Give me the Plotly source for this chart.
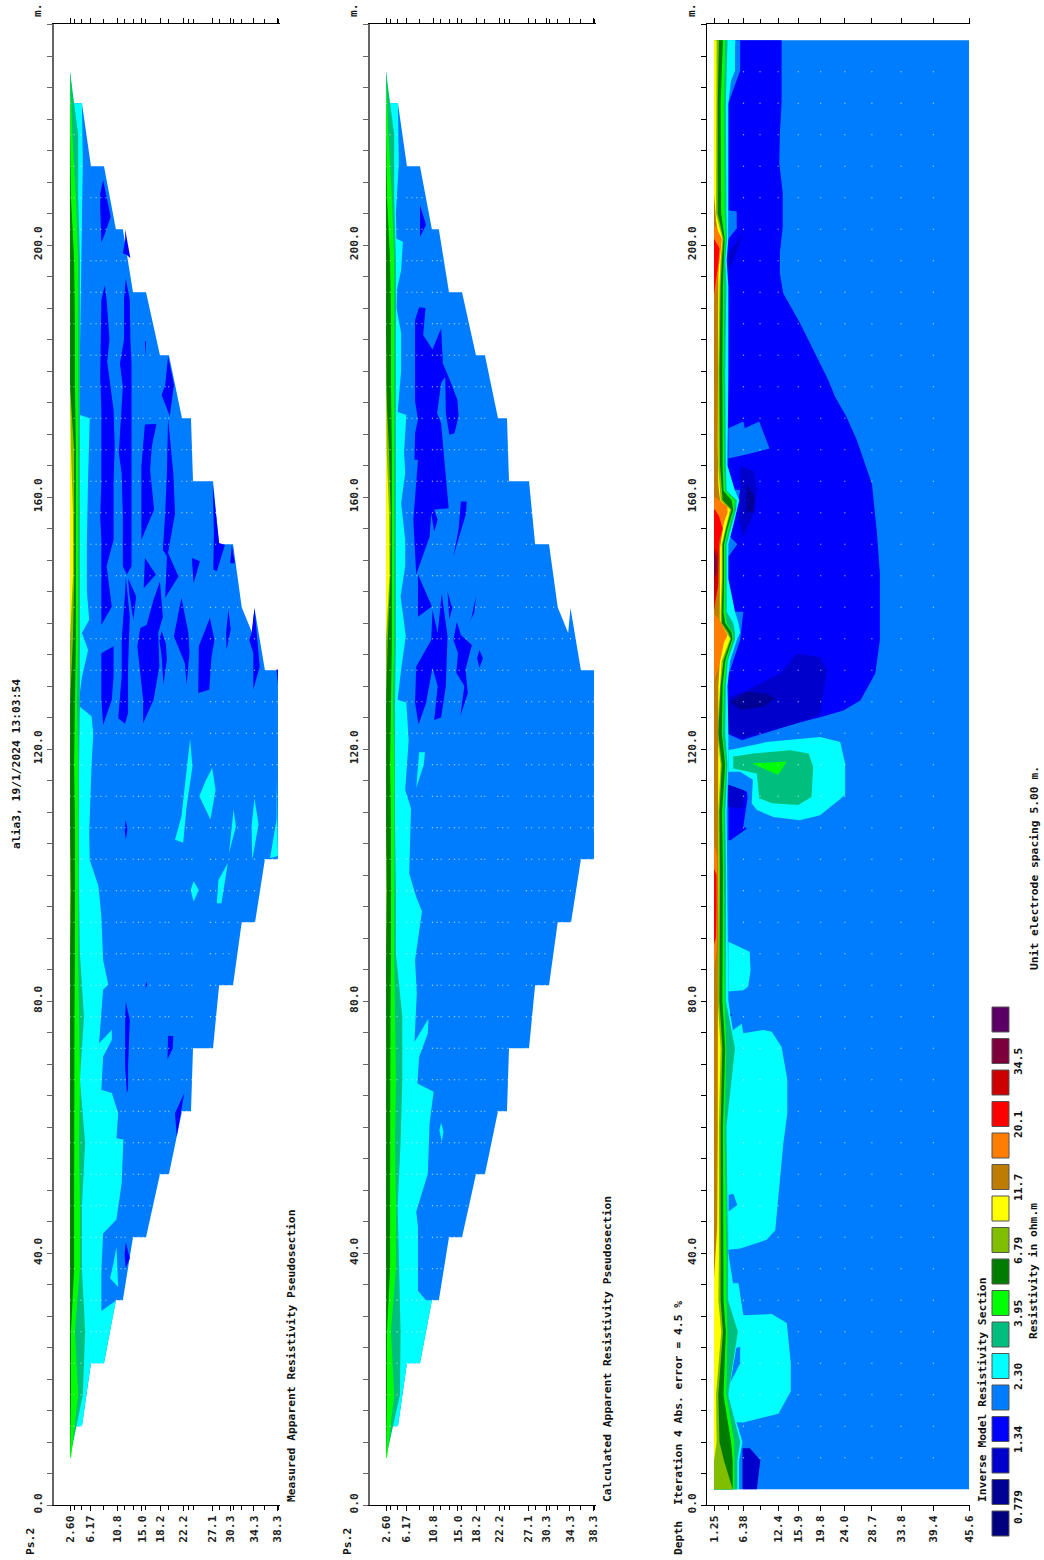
import plotly.graph_objects as go

W, H = 1044, 1560
FONT = "DejaVu Sans Mono"

# ---------- colour scale of the legend, lowest to highest ----------
legend_colors = ["#000080", "#000096", "#0000CD", "#0000FF", "#007DFF", "#00FFFF", "#00BE7D",
                 "#00FF00", "#007D00", "#82BE00", "#FFFF00", "#BE7D00", "#FF7D00", "#FF0000",
                 "#CD0000", "#7D003C", "#5A0064"]
legend_labels = ["0.779", "1.34", "2.30", "3.95", "6.79", "11.7", "20.1", "34.5"]
DEEP2, DEEP, BLUE, SKY, CYAN, TEAL, GREEN, DGREEN, OLIVE, YELLOW, BROWN, ORANGE, RED, DRED, MAROON = legend_colors[1:16]

# ---------- axes ----------
pseudo_ticks = [2.6, 6.17, 10.8, 15.0, 18.2, 22.2, 27.1, 30.3, 34.3, 38.3]
pseudo_labels = ["2.60", "6.17", "10.8", "15.0", "18.2", "22.2", "27.1", "30.3", "34.3", "38.3"]
pseudo_minor = [3.3, 4.6, 8.3, 11.9, 13.5, 15.6, 19.6, 23.0, 23.9, 28.3, 30.8, 32.2, 36.2, 38.5]
model_ticks = [1.25, 6.38, 12.4, 15.9, 19.8, 24.0, 28.7, 33.8, 39.4, 45.6]
model_labels = ["1.25", "6.38", "12.4", "15.9", "19.8", "24.0", "28.7", "33.8", "39.4", "45.6"]
model_minor = [3.75, 9.25]
pos_ticks = list(range(0, 236, 5))
pos_labels = [f"{v:.1f}" if v % 40 == 0 else "" for v in pos_ticks]

# ---------- pseudosection outline (depth, position) ----------
outline = [(2.6, 7.5), (3.1, 12.5), (4.65, 12.5), (6.2, 22.5), (8.45, 22.5), (10.5, 32.5), (11.7, 32.5),
           (13.45, 42.5), (15.7, 42.5), (18.1, 52.5), (19.65, 52.5), (21.9, 62.5), (23.45, 62.5), (23.8, 72.5),
           (27.25, 72.5), (28.3, 82.5), (30.7, 82.5), (32.2, 92.5), (34.5, 92.5), (36.2, 102.5), (38.45, 102.5),
           (38.45, 132.5), (36.2, 132.5), (34.4, 142.4), (34.0, 138.4), (32.2, 142.5), (30.7, 152.5), (28.3, 152.5),
           (27.25, 162.5), (23.8, 162.5), (23.45, 172.5), (21.9, 172.5), (19.65, 182.5), (18.1, 182.5), (15.7, 192.5),
           (13.45, 192.5), (11.7, 202.5), (10.5, 202.5), (8.45, 212.5), (6.2, 212.5), (4.65, 222.5), (3.1, 222.5),
           (2.6, 227.5)]

# ---------- near-surface bands of the pseudosections ----------
surface_pos = [7.5, 17.5, 27.5, 37.5, 47.5, 57.5, 67.5, 77.5, 87.5, 97.5, 107.5, 117.5, 127.5, 137.5, 147.5, 157.5,
               167.5, 177.5, 187.5, 197.5, 207.5, 217.5, 227.5]
m_teal = [2.6, 4.8, 5.2, 4.65, 4.65, 5.2, 4.3, 5.0, 4.3, 4.15, 4.15, 4.15, 4.3, 4.3, 4.3, 4.3, 4.3, 4.3, 4.3, 4.3, 4.0, 4.0, 2.6]
c_teal = [2.6, 5.0, 5.1, 4.8, 4.6, 5.1, 5.4, 5.4, 4.3, 4.3, 4.15, 4.15, 4.15, 4.3, 4.3, 4.3, 4.3, 4.3, 4.3, 4.3, 4.0, 4.0, 2.6]
s_green = [2.76, 4.0, 3.45, 4.3, 4.3, 4.15, 4.3, 4.15, 4.0, 4.0, 4.0, 4.0, 3.8, 4.0, 4.0, 4.0, 4.0, 4.0, 4.0, 4.0, 3.6, 3.0, 2.6]
s_dgreen = [2.6, 2.76, 2.76, 3.3, 3.3, 3.3, 3.3, 3.36, 3.45, 3.45, 3.45, 3.3, 3.45, 3.6, 3.6, 3.6, 3.6, 3.45, 3.45, 3.3, 2.76, 2.6, 2.6]
m_olive = [2.6, 2.6, 2.6, 2.6, 2.6, 2.6, 2.6, 2.6, 2.6, 2.76, 2.6, 2.6, 2.6, 3.1, 3.3, 3.3, 3.3, 2.6, 2.6, 2.6, 2.6, 2.6, 2.6]
m_yellow = [2.6, 2.6, 2.6, 2.6, 2.6, 2.6, 2.6, 2.6, 2.6, 2.6, 2.6, 2.6, 2.6, 2.6, 3.1, 3.1, 2.76, 2.6, 2.6, 2.6, 2.6, 2.6, 2.6]
c_olive = [2.6, 2.6, 2.6, 2.6, 2.6, 2.6, 2.6, 2.6, 2.6, 2.76, 2.6, 2.6, 2.6, 2.9, 3.3, 3.4, 3.1, 2.6, 2.6, 2.6, 2.6, 2.6, 2.6]
c_yellow = [2.6, 2.6, 2.6, 2.6, 2.6, 2.6, 2.6, 2.6, 2.6, 2.6, 2.6, 2.6, 2.6, 2.6, 3.2, 3.1, 2.7, 2.6, 2.6, 2.6, 2.6, 2.6, 2.6]

# ---------- measured pseudosection ----------
m_cyan = [(2.6, 222.5), (4.65, 222.5), (4.8, 213), (4.3, 182.5), (4.3, 173), (6, 172.5), (5.7, 162.7), (5.5, 152.7),
          (5.5, 145), (5.9, 140.5), (4.65, 138.4), (5.7, 135.7), (4.65, 131.4), (4.0, 126.8), (4.3, 126.7),
          (6.3, 125.2), (6.6, 122.5), (6.3, 117.2), (5.9, 106.6), (6, 102.4), (7.5, 98.2), (8, 93.4), (8.3, 86.5),
          (9.2, 82.6), (8.3, 81.8), (7.6, 73.3), (9.8, 75.4), (9.8, 73.8), (8.3, 71.2), (8, 65.9), (9.8, 65.4),
          (10.9, 62.2), (10.6, 58.2), (11.8, 58), (11.5, 51.1), (10.6, 45.3), (8.3, 43.1), (8, 37.3), (8, 30.8),
          (10.6, 32.5), (11.7, 32.5), (10.5, 32.5), (8.45, 22.5), (6.2, 22.5), (4.65, 12.5), (3.1, 12.5), (2.6, 7.5)]
m_cyan_islands = [
    [(10.6, 41), (10.9, 34.6), (9.5, 36), (10.1, 38.4)],
    [(23.3, 121.6), (23.7, 117.2), (22.7, 110.9), (22.1, 105.1), (20.7, 105.6), (21.8, 109.3)],
    [(27.1, 117), (27.7, 113.5), (26.8, 108.8), (24.9, 112.5), (25.9, 114.8)],
    [(30.8, 110.4), (31.2, 107.7), (30, 103.5), (30.5, 108.2)],
    [(34.4, 112.2), (35.1, 108), (34, 102.4), (33.9, 107.7)],
    [(38.2, 115.6), (38.45, 103), (37.1, 102.7), (38.2, 108.8)],
    [(29.8, 101.9), (28.7, 95.5), (27.9, 95.5), (28.2, 99.2)],
    [(23.9, 99), (24.8, 97.6), (23.9, 95.8), (23.4, 97.6)],
]
m_blue_blobs = [
    [(8.3, 210.3), (9.6, 204.5), (8.6, 201.8), (8, 200.4), (7.8, 206), (7.8, 208.2)],
    [(12.1, 202.5), (13, 197.9), (12.4, 198.4), (11.7, 198.7), (12.1, 200.8)],
    [(8.6, 193.6), (8.9, 191.3), (9.4, 185), (9.0, 181.5), (10.1, 173.8), (10.3, 168), (10.1, 162.2), (10.1, 156.9),
     (10.1, 153.2), (8.9, 149), (9.8, 142.6), (8, 139.7), (8, 142.6), (8, 149), (8, 153.2), (7.8, 156.9), (8, 162.2),
     (8, 168), (8, 173.8), (7.8, 179.1), (7.9, 185), (8, 191.3)],
    [(8.0, 135.2), (10.1, 136.3), (10.1, 131.5), (9.8, 127.8), (8.3, 123.8), (8, 127.8)],
    [(12.2, 194.7), (12.9, 191.3), (13, 185), (13.2, 181.2), (13.2, 177.5), (13.2, 170), (13.2, 163.8), (13.2, 157),
     (13.2, 149), (12.4, 147.7), (11.7, 149), (11.7, 157), (11.5, 163.8), (11, 167), (11.2, 170), (11.7, 177.5),
     (11.2, 181.2), (11.9, 185), (11.9, 191.3)],
    [(12.2, 147.4), (12.9, 141), (12.6, 133.1), (12.6, 125.7), (12.1, 124), (10.9, 124.9), (11.5, 131.5), (11.5, 137.3), (12.1, 145)],
    [(12.6, 147.1), (14, 144.2), (13.5, 140.5), (12.8, 144.8)],
    [(15.5, 171.5), (17.5, 171.6), (16.7, 168), (16.4, 164.3), (17.1, 158), (14.9, 153.2), (14.9, 164.9), (15.2, 168)],
    [(15.5, 184.7), (15.7, 184.7), (15.6, 182.3)],
    [(19.5, 182.3), (20.5, 177.8), (19.8, 172.8), (18.4, 176.2), (19, 177.8)],
    [(19.5, 172.5), (20.4, 163.8), (20.7, 157.4), (20.1, 154.3), (19.5, 151.1), (21.3, 147.4), (19, 144), (19.3, 150.6),
     (18.6, 151.6), (19, 157.4), (19.3, 163.8)],
    [(15.5, 150.3), (17.4, 147.7), (15.3, 145.5)],
    [(23.6, 150.3), (25, 149.8), (23.9, 146.3)],
    [(27.2, 162), (28.3, 152.7), (29.3, 152.4), (27.9, 148.2), (27.3, 148.5), (27.4, 154.3)],
    [(30.5, 152.4), (31, 149.5), (30.2, 149.5)],
    [(18.1, 146.6), (18.6, 141), (17.8, 138.4), (18, 133.1), (17, 127.8), (15.2, 124.1), (15.2, 127.8), (14.9, 130.5),
     (14.2, 136.3), (14.7, 139.2), (15.8, 139.7), (17, 143.7)],
    [(18.4, 138.7), (19.1, 136.8), (19.3, 134.2), (18.7, 130.2), (18.4, 134.7), (18, 137.3)],
    [(21.8, 144), (23, 138.4), (23.2, 135.2), (22.7, 130.2), (22.4, 133.6), (20.5, 137.9)],
    [(26.7, 140.8), (27.5, 137.3), (27, 134.7), (26.6, 129.4), (24.7, 128.9), (24.8, 136.3)],
    [(29.9, 142.1), (30.3, 139), (29.6, 135.8), (29.5, 138.4)],
    [(34.4, 142.4), (35.3, 133.1), (34.2, 129.4), (34.2, 135.2), (33.5, 137.3), (33.9, 138.4)],
    [(38.2, 132.6), (38.45, 132.6), (38.45, 130.2)],
    [(12.2, 108.8), (12.5, 107.2), (12.2, 105.6), (12, 107.2)],
    [(15.7, 83.1), (15.9, 82.6), (15.6, 82)],
    [(12.2, 79.9), (12.9, 77), (12.6, 69.6), (12.6, 65.9), (12.4, 65.4), (12.1, 69.6), (12.1, 77)],
    [(19.5, 74.5), (20.4, 74.4), (20.3, 72.5), (19.4, 70.7)],
    [(22.3, 65.4), (21.7, 62.2), (21, 58.5), (20.7, 62.2)],
    [(12.2, 41.7), (12.9, 39.2), (12.2, 37.6), (12.0, 39.7)],
]

# ---------- calculated pseudosection ----------
c_cyan = [(2.6, 222.5), (4.65, 222.5), (4.8, 213), (4.3, 205), (4.4, 201), (5.5, 200.5), (5.2, 196), (4.5, 193), (4.4, 190),
          (5.2, 186), (5.2, 180), (4.6, 174), (4.6, 173.5), (6.1, 173), (5.7, 167), (5.9, 163.8), (5.2, 159), (5.9, 153.2),
          (5.9, 149), (5.1, 144.2), (6, 137.9), (5.2, 132.6), (4.6, 127.8), (6.1, 127.4), (6.5, 121.4), (5.9, 113.5),
          (6.9, 110.6), (6.6, 100.2), (7.8, 96.5), (8.8, 94.2), (8.1, 89.7), (7.6, 86.5), (7.9, 81.2), (7.8, 79.1),
          (7.5, 73.5), (9.9, 77.2), (9.8, 74.9), (8.3, 71.1), (8, 66.9), (10.8, 65.6), (10.1, 60.6), (9.8, 52.6),
          (7.8, 46.5), (8.1, 44.2), (8.1, 38.9), (8.1, 34), (9.5, 32.5), (10.5, 32.5), (8.45, 22.5), (6.2, 22.5),
          (4.65, 12.5), (3.1, 12.5), (2.6, 7.5)]
c_cyan_islands = [
    [(8.3, 119.5), (9.3, 119.5), (9.1, 117.5), (7.8, 113.8)],
    [(11.8, 59.5), (12.1, 60.7), (12.5, 59.2), (12.2, 57.7)],
]
c_blue_blobs = [
    [(8.45, 206.3), (9.5, 203.2), (8.45, 201.3)],
    [(8.3, 190.1), (9.4, 190), (9, 185.7), (10.6, 183.4), (12.1, 186.8), (12.4, 181.2), (13.8, 178.1), (14.9, 175.4),
     (15.1, 172.8), (14.4, 170.1), (13.5, 169.9), (12.9, 173.3), (12.8, 179.1), (12.1, 178.1), (11.4, 173.3),
     (12.1, 171.7), (12.6, 166.4), (13.4, 158.2), (10.9, 158), (11.5, 156.4), (10.9, 154.5), (10.4, 157.4),
     (10.1, 153.7), (7.8, 147.7), (7.3, 156.4), (7.8, 161.7), (8.1, 165.9), (7.5, 165.9), (7.6, 170.1), (8.1, 172.3),
     (7.6, 175.2), (7.6, 188.1)],
    [(15.5, 159.3), (16.5, 159.3), (16.4, 157.4), (14.2, 150.6), (15.1, 154.8), (15.4, 157.4)],
    [(8.1, 147.7), (10.5, 142.6), (8.1, 141)],
    [(11.8, 150), (10.9, 144), (11.5, 147.4)],
    [(7.8, 133.1), (10.4, 137.3), (10.6, 142.1), (11.5, 138.4), (12.2, 144.7), (13.2, 137.9), (12.9, 130), (12.1, 125),
     (10.9, 124.6), (11.5, 130), (10.6, 132.9), (9.5, 127.3), (8.2, 123.9), (7.6, 127.3)],
    [(13.2, 145), (14, 142.4), (13.5, 140.5)],
    [(18.1, 144.2), (17.8, 141.6), (16.1, 138.7), (17.3, 140.8)],
    [(14.8, 140.2), (15.5, 138.1), (17.4, 136.5), (16.3, 132.6), (16.7, 128.9), (15.4, 125.2), (16.1, 130), (14.7, 132.1),
     (15, 135.2), (14.2, 137.3)],
    [(18.7, 135.7), (19.3, 134.4), (18.7, 132.9), (18.3, 134.4)],
]

# ---------- white data-point marks ----------
pseudo_dot_depths = [2.6, 3.3, 4.5, 6.2, 7.1, 7.9, 8.8, 10.6, 11.4, 12.1, 13.5, 14.4, 15.2, 16.4, 18.1, 19, 19.6, 21.9,
                     22.7, 23.6, 26.8, 27.7, 29, 30, 31.5, 33, 34.4, 36.2, 37.5, 38.3]
model_dot_depths = [6.38, 9.25, 12.4, 15.9, 19.8, 24.0, 28.7, 33.8, 39.4]
dot_positions = [7.5 + 5 * i for i in range(45)]

# ---------- inverse model section ----------
model_depth_range = [1.25, 45.6]
model_pos_range = [2.5, 232.5]
band_pos = [2.5, 7, 10, 17.5, 27.5, 32.5, 40, 60, 72.5, 80, 100, 110, 117.5, 122.5, 130, 134, 137.5, 138.5, 140, 141.8,
            147, 152.5, 155, 158, 159.5, 161, 165, 180, 193.4, 197.6, 201, 205, 222.5, 232.5]
band_yellow = [1.25, 1.25, 1.7, 1.6, 2.5, 2.0, 2.1, 2.1, 2.4, 1.9, 2.0, 2.0, 2.4, 1.8, 2.3, 2.6, 4.05, 3.45, 2.4, 2.4,
               2.6, 2.6, 3.2, 4.05, 2.4, 2.3, 2.0, 2.0, 2.2, 2.4, 2.7, 1.6, 1.7, 1.7]
band_olive = [4.5, 3.0, 2.2, 2.0, 2.8, 2.4, 2.4, 2.4, 2.7, 2.2, 2.3, 2.2, 2.6, 2.0, 2.4, 2.9, 4.2, 3.75, 2.6, 2.6,
              2.75, 2.75, 3.35, 4.3, 2.75, 2.6, 2.3, 2.2, 2.4, 2.6, 2.9, 1.9, 1.9, 2.1]
band_dgreen = [4.5, 4.5, 4.2, 2.9, 3.3, 2.9, 2.9, 2.8, 3.2, 2.7, 2.8, 2.65, 3.2, 2.6, 2.75, 3.2, 4.45, 4.3, 3.2, 2.9,
               3.0, 3.0, 3.6, 4.6, 4.3, 2.9, 2.75, 2.7, 2.8, 2.9, 3.1, 2.5, 2.4, 2.8]
band_green = [4.8, 4.8, 4.8, 3.4, 3.6, 3.4, 3.4, 3.1, 3.4, 3.1, 3.0, 2.9, 3.35, 2.75, 3.05, 3.45, 4.6, 4.5, 3.45, 3.2,
              3.2, 3.2, 3.9, 4.75, 4.9, 3.2, 3.0, 2.9, 3.05, 3.05, 3.3, 3.1, 3.0, 3.2]
band_teal = [5.3, 5.3, 5.8, 3.7, 5.4, 3.7, 3.7, 3.4, 4.9, 3.3, 3.35, 3.2, 3.6, 3.2, 3.3, 3.65, 4.9, 4.9, 4.6, 3.45,
             3.45, 3.45, 4.15, 5.1, 5.2, 3.45, 3.3, 3.2, 3.4, 3.2, 3.5, 3.4, 3.3, 3.6]
band_cyan = [5.6, 5.6, 6.2, 3.75, 5.6, 5.0, 3.75, 3.75, 5.0, 3.75, 3.6, 3.45, 3.75, 3.75, 3.6, 4.05, 5.3, 5.8, 5.5, 4.9,
             3.75, 3.75, 4.45, 5.3, 5.65, 4.9, 3.6, 3.75, 3.75, 3.45, 3.75, 3.75, 3.75, 5.0]

model_big_blue = [(1.25, 232.5), (13, 232.5), (13, 222.5), (12.7, 217.7), (12.6, 213), (13.2, 208.2), (13.2, 202.9),
                  (12.7, 198.7), (12.7, 195.5), (13.3, 192.3), (16.2, 187.6), (19.1, 182.3), (21.1, 178.6), (22.3, 175.9),
                  (24.3, 172.7), (26.1, 169), (28.7, 162.1), (29.55, 154.7), (30.1, 147.8), (30.1, 137.3), (29.3, 132),
                  (26.7, 127.7), (23.75, 126.1), (20, 125.1), (15.3, 124), (6.1, 121.4), (3.7, 122.4), (1.25, 122.4)]
model_sky_pockets = [
    [(1.25, 232.5), (5.8, 232.5), (5.8, 227.7), (3.75, 222.5), (1.25, 222.5)],
    [(3.75, 205.5), (5.2, 205.3), (5.2, 202.6), (3.75, 201)],
    [(3.75, 170.9), (6.35, 172), (6.6, 170.9), (9.1, 172), (10.9, 167.7), (7.6, 166.9), (3.75, 166.1)],
    [(3.2, 161.2), (5.8, 161.1), (4.9, 156.6), (4.05, 153.7), (5.3, 152.5), (3.9, 150.7), (3.2, 150.7)],
    [(3.2, 141.8), (6.35, 141.8), (5.8, 137.3), (4.05, 132.5), (4.9, 132.5), (3.2, 132.2)],
]
model_cyan_pocket = [(1.25, 232.5), (4.9, 232.5), (4.9, 227.7), (3.75, 225), (1.25, 225)]
model_deep = [
    [(3.45, 126.2), (4, 128.3), (6.95, 129.3), (12.75, 132), (15.6, 135.1), (19.7, 134.6), (20.85, 132.5), (20.3, 128.8),
     (19.7, 125.4), (15.35, 124), (6.35, 121.7), (3.75, 122.4)],
    [(5.8, 164.8), (8.1, 164.2), (8.7, 161.1), (8.4, 157.9), (6.35, 153.7), (5.5, 156.3), (5.8, 161)],
    [(3.75, 196), (3.75, 198.7), (6.35, 201.9), (4.6, 197.6)],
    [(6.2, 9), (7.5, 9), (9.3, 7.1), (8.7, 2.5), (6.2, 2.5)],
    [(3.75, 114.3), (6.5, 113.4), (6.3, 110.5), (3.75, 110.8)],
]
model_deeper = [
    [(4, 127.5), (6.95, 129.1), (10.4, 128.8), (11.9, 128), (9.85, 126.7), (5.8, 126.2)],
    [(7, 162), (8.3, 160), (8, 157.5), (6.8, 157.8)],
]
model_blue_small = [(3.75, 114.3), (6.95, 113.2), (7.1, 112.4), (6.35, 107.7), (7, 107.4), (4.1, 105.5), (3.75, 105.5)]
model_dark_dot = [(3.75, 78), (4.4, 77.8), (4, 77.4)]
model_cyan_blobs = [
    [(3.75, 119.8), (10.4, 121.1), (19.7, 121.9), (23.2, 121.1), (24.05, 117.7), (24.05, 112.7), (19.7, 109.5), (16.2, 108.7),
     (11.6, 109.2), (8.7, 110.3), (7.8, 111.4), (8, 115.1), (5.8, 116.4), (3.75, 116.4)],
    [(3.75, 89.4), (7.45, 87.8), (7.6, 84.9), (7.2, 82.3), (6.35, 81.7), (3.75, 81.5)],
    [(3.45, 74.6), (6.05, 76.4), (6.35, 74.9), (9.8, 75.4), (11.3, 75.1), (13, 72.7), (14, 67.5), (14, 62.2), (13.3, 57.4),
     (12.7, 51.6), (11.9, 43.6), (10.4, 42.1), (5.8, 40.7), (3.75, 40.5)],
    [(3.75, 13.2), (6.35, 13.1), (12.45, 14.5), (14.6, 18), (14.6, 22.5), (13.9, 28.9), (11.3, 30.3), (6.35, 30.1),
     (5.5, 35.2), (3.75, 35.2)],
]
model_sky_in_cyan = [
    [(3.75, 49.2), (4.6, 49.4), (5.3, 47.6), (3.75, 46.6)],
    [(3.75, 18.8), (5.8, 22.5), (5.8, 25.1), (3.75, 24.6)],
]
model_teal_blob = [(4.6, 118.8), (8.1, 119.3), (14.5, 119.8), (17.7, 119.3), (18.5, 117.2), (18.2, 112.4), (15.9, 111.1),
                   (11.3, 111.4), (9.1, 112.2), (8.7, 116.1), (4.6, 116.9)]
model_green_blob = [(7.8, 117.7), (13.9, 118), (12.4, 115.9), (9.8, 116.9)]
surface_brown = [(1.25, 36), (1.8, 44), (1.9, 60), (1.9, 100), (1.9, 125), (2.0, 130), (2.2, 133), (2.3, 142), (2.3, 152),
                 (2.8, 155), (3.2, 158), (2.3, 159.5), (2.0, 162), (1.9, 168), (1.9, 190), (2.0, 195), (2.2, 200), (1.6, 204), (1.25, 208)]
surface_orange = [
    [(1.25, 131), (2.1, 133), (3.0, 137), (3.6, 138), (2.2, 140.5), (1.25, 141.5)],
    [(1.25, 153), (2.6, 155), (3.6, 157.5), (3.6, 158.5), (2.2, 159.5), (1.25, 160)],
    [(1.25, 191), (1.9, 195), (2.3, 198), (2.6, 201), (1.5, 203), (1.25, 203)],
    [(1.25, 85), (1.7, 88), (1.8, 95), (1.8, 103), (1.25, 105)],
]
surface_red = [
    [(1.25, 142), (2.0, 146), (2.1, 152), (2.2, 153), (2.75, 155), (2.1, 157), (1.4, 158), (1.25, 158)],
    [(1.25, 192), (1.6, 194), (2, 197), (2.2, 199.5), (1.25, 201)],
    [(1.25, 89), (1.6, 90), (1.7, 95), (1.7, 100), (1.25, 101)],
]
surface_dred = [(1.25, 143), (1.9, 146), (2.0, 151), (1.25, 152)]
surface_maroon = [(1.25, 147), (1.7, 148), (1.8, 150), (1.25, 151.5)]

fig = go.Figure()


def poly(points, color, n):
    fig.add_trace(go.Scatter(x=[p[0] for p in points] + [points[0][0]], y=[p[1] for p in points] + [points[0][1]],
                             mode="lines", line=dict(width=0, color=color), fill="toself", fillcolor=color,
                             hoverinfo="skip", showlegend=False, xaxis=f"x{n}", yaxis=f"y{n}"))


def band(surface, positions, depths, color, n):
    pts = [(surface, positions[0])] + list(zip(depths, positions)) + [(surface, positions[-1])]
    poly(pts, color, n)


def inside(x, y, pts):
    hit = False
    for i in range(len(pts)):
        x1, y1 = pts[i]
        x2, y2 = pts[(i + 1) % len(pts)]
        if (y1 > y) != (y2 > y) and x < x1 + (y - y1) * (x2 - x1) / (y2 - y1):
            hit = not hit
    return hit


def dots(depths, positions, region, n):
    xs, ys = [], []
    for p in positions:
        for d in depths:
            if inside(d, p, region):
                xs.append(d)
                ys.append(p)
    fig.add_trace(go.Scatter(x=xs, y=ys, mode="markers", marker=dict(symbol="square", size=1.2, color="rgba(255,255,255,0.7)", line=dict(width=0)),
                             hoverinfo="skip", showlegend=False, xaxis=f"x{n}", yaxis=f"y{n}"))


def pseudosection(n, blobs, cyan, islands, teal, olive, yellow):
    poly(outline, SKY, n)
    for b in blobs:
        poly(b, BLUE, n)
    poly(cyan, CYAN, n)
    for b in islands:
        poly(b, CYAN, n)
    band(2.6, surface_pos, teal, TEAL, n)
    band(2.6, surface_pos, s_green, GREEN, n)
    band(2.6, surface_pos, s_dgreen, DGREEN, n)
    band(2.6, surface_pos, olive, OLIVE, n)
    band(2.6, surface_pos, yellow, YELLOW, n)
    dots(pseudo_dot_depths, dot_positions, outline, n)


pseudosection(1, m_blue_blobs, m_cyan, m_cyan_islands, m_teal, m_olive, m_yellow)
pseudosection(2, c_blue_blobs, c_cyan, c_cyan_islands, c_teal, c_olive, c_yellow)

# model section
section_rect = [(model_depth_range[0], model_pos_range[0]), (model_depth_range[1], model_pos_range[0]),
                (model_depth_range[1], model_pos_range[1]), (model_depth_range[0], model_pos_range[1])]
poly(section_rect, SKY, 3)
poly(model_big_blue, BLUE, 3)
for b in model_sky_pockets:
    poly(b, SKY, 3)
poly(model_cyan_pocket, CYAN, 3)
for b in model_deep:
    poly(b, DEEP, 3)
for b in model_deeper:
    poly(b, DEEP2, 3)
poly(model_blue_small, BLUE, 3)
poly(model_deep[4], DEEP, 3)
poly(model_dark_dot, DEEP, 3)
for b in model_cyan_blobs:
    poly(b, CYAN, 3)
for b in model_sky_in_cyan:
    poly(b, SKY, 3)
poly(model_teal_blob, TEAL, 3)
poly(model_green_blob, GREEN, 3)
for depths, color in [(band_cyan, CYAN), (band_teal, TEAL), (band_green, GREEN), (band_dgreen, DGREEN),
                      (band_olive, OLIVE), (band_yellow, YELLOW)]:
    band(1.25, band_pos, depths, color, 3)
poly(surface_brown, BROWN, 3)
for b in surface_orange:
    poly(b, ORANGE, 3)
for b in surface_red:
    poly(b, RED, 3)
poly(surface_dred, DRED, 3)
poly(surface_maroon, MAROON, 3)
dots(model_dot_depths, dot_positions, section_rect, 3)

tick_font = dict(family=FONT, size=11.3, color="#222222", weight="bold")
TOP, BOTTOM = 24, 1505


def xaxis(left, right, rng, ticks, labels, minor):
    return dict(domain=[left / W, right / W], range=rng, tickmode="array", tickvals=ticks, ticktext=labels,
                tickangle=-90, ticks="outside", ticklen=5, tickcolor="#000000", tickwidth=1, tickfont=tick_font,
                showline=True, linecolor="#000000", linewidth=1, mirror="ticks", showgrid=False, zeroline=False,
                minor=dict(tickmode="array", tickvals=minor, ticks="outside", ticklen=4, tickcolor="#000000", tickwidth=1, showgrid=False),
                automargin=False, fixedrange=True)


def yaxis(anchor, color, width):
    return dict(domain=[1 - BOTTOM / H, 1 - TOP / H], range=[0, (BOTTOM - TOP) / 6.3], anchor=anchor, tickmode="array", tickvals=pos_ticks,
                ticktext=pos_labels, tickangle=-90, ticks="outside", ticklen=5, tickcolor=color, tickwidth=1,
                tickfont=tick_font, showline=True, linecolor=color, linewidth=width, showgrid=False, zeroline=False,
                automargin=False, fixedrange=True)


shapes = []
for i, c in enumerate(legend_colors):
    top = 1511 - i * 31.5
    shapes.append(dict(type="rect", xref="paper", yref="paper", x0=992 / W, x1=1009 / W, y0=1 - (top + 25) / H, y1=1 - top / H,
                       fillcolor=c, line=dict(color="#555555", width=1)))

notes = [("alia3, 19/1/2024 13:03:54", 16, 764), ("Measured Apparent Resistivity Pseudosection", 291, 1356),
         ("Calculated Apparent Resistivity Pseudosection", 607, 1349), ("Ps.2", 30, 1542), ("Ps.2", 347, 1542),
         ("m.", 38, 10), ("m.", 354, 10), ("m.", 692, 10), ("Depth", 678, 1538),
         ("Iteration 4 Abs. error = 4.5 %", 678, 1403), ("Inverse Model Resistivity Section", 982, 1390),
         ("Resistivity in ohm.m", 1033, 1271), ("Unit electrode spacing 5.00 m.", 1034, 868)]
label_rows = [1507, 1440, 1377, 1314, 1251, 1188, 1125, 1062]
notes += [(t, 1018, y) for t, y in zip(legend_labels, label_rows)]
annotations = [dict(text=t, xref="paper", yref="paper", x=x / W, y=1 - y / H, xanchor="center", yanchor="middle",
                    textangle=-90, showarrow=False, font=dict(family=FONT, size=11.3, color="#111111", weight="bold")) for t, x, y in notes]

fig.update_layout(
    width=W, height=H, margin=dict(l=0, r=0, t=0, b=0), paper_bgcolor="white", plot_bgcolor="white", showlegend=False,
    xaxis=xaxis(54, 280, [-0.17, 38.8], pseudo_ticks, pseudo_labels, pseudo_minor),
    xaxis2=xaxis(370, 596, [-0.17, 38.8], pseudo_ticks, pseudo_labels, pseudo_minor),
    xaxis3=xaxis(707, 970, [0.03, 45.77], model_ticks, model_labels, model_minor),
    yaxis=yaxis("x", "#666666", 2), yaxis2=yaxis("x2", "#666666", 2), yaxis3=yaxis("x3", "#000000", 1),
    shapes=shapes, annotations=annotations)
fig.update_layout(xaxis=dict(anchor="y"), xaxis2=dict(anchor="y2"), xaxis3=dict(anchor="y3"))

fig.write_html("out.html", post_script="document.body.style.margin='0';", config=dict(displayModeBar=False))
